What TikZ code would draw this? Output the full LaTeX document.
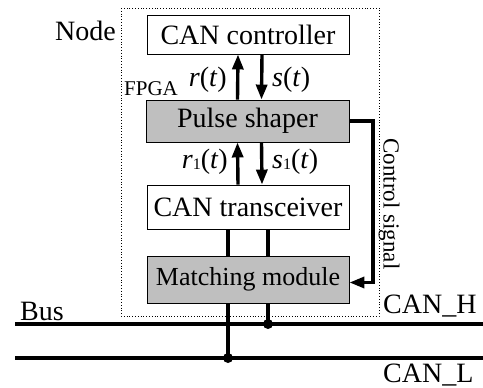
\documentclass[tikz,border=0pt]{standalone}
\usepackage{fontspec}
\setmainfont{Liberation Serif}
\usetikzlibrary{positioning}
\usetikzlibrary{arrows.meta}

\tikzset{
 blk/.style={draw, line width=0.9pt, minimum width=202pt, inner sep=0pt,
  font=\fontsize{28}{30}\selectfont},
 grayblk/.style={blk, fill=gray!50},
 sig/.style={line width=3.4pt},
 sigarr/.style={sig, -{Triangle[length=15pt,width=11pt]}},
 bus/.style={line width=3.6pt},
 lbl/.style={inner sep=0pt, font=\fontsize{28}{30}\selectfont},
}
\newcommand{\sone}{\raisebox{-1pt}{\fontsize{16}{16}\selectfont 1}}

\begin{document}
\begin{tikzpicture}[x=1pt,y=-1pt]
 \useasboundingbox (0,0) rectangle (483,388);
 % node boundary
 \draw[dotted, line width=0.8pt] (121,8) rectangle (379,316);
 \node[lbl, anchor=base west] (nodelbl) at (55,40) {Node};
 \node[lbl, anchor=base west, font=\fontsize{21}{23}\selectfont] (fpga) at (124,95) {FPGA};
 % blocks
 \node[blk, minimum height=39pt] (ctrl) at (248,34.5) {CAN controller};
 \node[grayblk, minimum height=42pt, minimum width=203pt] (shaper) at (247.5,121) {Pulse shaper};
 \node[blk, minimum height=44pt] (trans) at (248,207) {CAN transceiver};
 \node[grayblk, minimum height=47pt, font=\fontsize{26}{28}\selectfont] (match) at (248,279.5) {Matching module};
 % signals
 \draw[sigarr] ([xshift=-10pt]shaper.north) -- ([xshift=-10pt]ctrl.south);
 \draw[sigarr] ([xshift=14pt]ctrl.south) -- ([xshift=14pt]shaper.north);
 \draw[sigarr] ([xshift=-10pt]trans.north) -- ([xshift=-10pt]shaper.south);
 \draw[sigarr] ([xshift=14pt]shaper.south) -- ([xshift=14pt]trans.north);
 \node[lbl, anchor=base east] (rt) at (227,86) {\textit{r}(\textit{t})};
 \node[lbl, anchor=base west] (st) at (272,86) {\textit{s}(\textit{t})};
 \node[lbl, anchor=base east] (r1t) at (228,168) {\textit{r}\sone(\textit{t})};
 \node[lbl, anchor=base west] (s1t) at (272,168) {\textit{s}\sone(\textit{t})};
 % control signal
 \coordinate (cturn) at (373,200);
 \draw[sigarr] (shaper.east) -| (cturn) |- ([yshift=-3pt]match.east);
 \node[lbl, rotate=-90, font=\fontsize{23}{25}\selectfont] (ctl) at (389,204) {Control signal};
 % bus
 \coordinate (hl) at (15,324);
 \coordinate (hr) at (483,324);
 \coordinate (ll) at (15,358);
 \coordinate (lr) at (483,358);
 \draw[bus] (hl) -- (hr);
 \draw[bus] (ll) -- (lr);
 \coordinate (jh) at (268,324);
 \coordinate (jl) at (228,358);
 \draw[sig] (trans.south -| jh) -- (match.north -| jh);
 \draw[sig] (trans.south -| jl) -- (match.north -| jl);
 \draw[sig] (match.south -| jh) -- (jh);
 \draw[sig] (match.south -| jl) -- (jl);
 \fill (jh) circle (5pt);
 \fill (jl) circle (5pt);
 \node[lbl, anchor=base west] (buslbl) at (20,320) {Bus};
 \node[lbl, anchor=base west] (canh) at (383,313) {CAN\_H};
 \node[lbl, anchor=base west] (canl) at (383,382) {CAN\_L};
\end{tikzpicture}
\end{document}
